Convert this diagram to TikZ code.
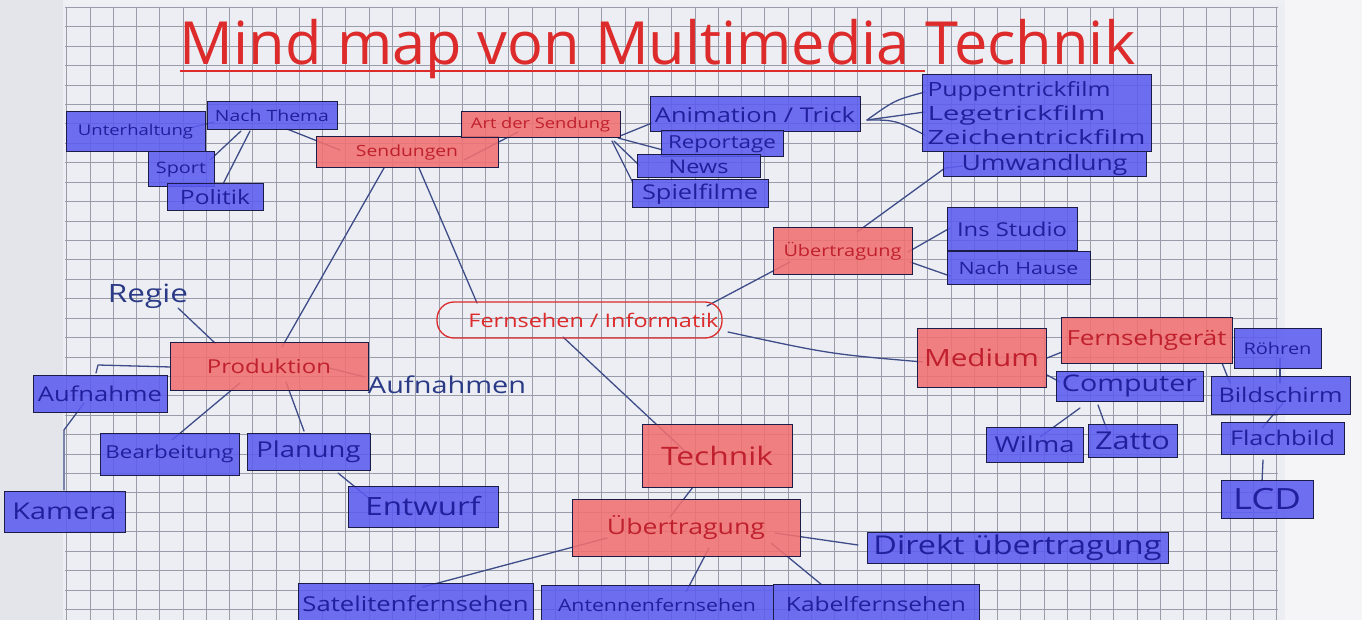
\documentclass[tikz,border=0pt]{standalone}
\usepackage{fontspec}
\setmainfont{Open Sans}
\usetikzlibrary{calc}
\pgfdeclarelayer{bg}
\pgfdeclarelayer{lines}
\pgfsetlayers{bg,lines,main}
\definecolor{outside}{HTML}{EEF0F4}
\definecolor{leftside}{HTML}{E3E5EB}
\definecolor{rightside}{HTML}{F5F5F8}
\definecolor{paper}{HTML}{ECEEF4}
\definecolor{gridc}{HTML}{9A9CAA}
\definecolor{bfill}{HTML}{5C5CF0}
\definecolor{rfill}{HTML}{F07070}
\definecolor{btext}{HTML}{20209C}
\definecolor{rtext}{HTML}{C0202E}
\definecolor{edgec}{HTML}{1C1C48}
\definecolor{connc}{HTML}{3E4C88}
\definecolor{titlered}{HTML}{DD2A2A}
\definecolor{handblue}{HTML}{2B3A86}
\tikzset{
  mmbase/.style={draw=edgec, line width=1pt, fill opacity=0.88, text opacity=1, inner sep=0pt, outer sep=0pt},
  bbox/.style={mmbase, fill=bfill, text=btext},
  rbox/.style={mmbase, fill=rfill, text=rtext},
  conn/.style={draw=connc, line width=1.3pt, line cap=round, line join=round},
  handtext/.style={text=handblue, inner sep=0pt},
  gridline/.style={draw=gridc, line width=0.9pt}
}
\newcommand\sqtext[2]{\scalebox{1}[0.8]{\resizebox{#1pt}{!}{#2}}}
\newcommand\mmbox[8]{%
  \node[#1, minimum width={(#5)-(#3)}, minimum height={(#6)-(#4)}] (#2)
    at ({((#3)+(#5))/2},{((#4)+(#6))/2}) {\sqtext{#7}{#8}};}
\begin{document}
\begin{tikzpicture}[x=1pt,y=-1pt]
\useasboundingbox (0,0) rectangle (1362,620);
\begin{pgfonlayer}{bg}
  \fill[outside] (0,0) rectangle (1362,620);
  \fill[leftside] (0,0) rectangle (63,620);
  \fill[rightside] (1285,0) rectangle (1362,620);
  \fill[paper] (63,4) rectangle (1285,620);
  \foreach \i in {0,...,52} \draw[gridline] ({66.7+\i*23.27},7) -- ({66.7+\i*23.27},620);
  \foreach \j in {0,...,31} \draw[gridline] (65,{7.4+\j*19.42}) -- (1278,{7.4+\j*19.42});
\end{pgfonlayer}

% title
\node[text=titlered, anchor=base, inner sep=0pt] (title) at (657.5,65) {\resizebox{955pt}{!}{Mind map von Multimedia Technik}};
\draw[titlered, line width=1.6pt] ($(title.base west)+(0,6)$) -- ($(title.base west)+(745,6)$);

% left cluster
\mmbox{bbox}{unterh}{66}{112}{205}{152}{115}{Unterhaltung}
\mmbox{bbox}{nachthema}{207}{102}{337}{130}{114}{Nach Thema}
\mmbox{bbox}{sport}{148}{152}{214}{187}{50}{Sport}
\mmbox{bbox}{politik}{167}{184}{263}{211}{70}{Politik}
\mmbox{rbox}{sendungen}{316}{137}{498}{168}{102}{Sendungen}
\mmbox{rbox}{artder}{461}{112}{620}{138}{139}{Art der Sendung}
\mmbox{bbox}{anim}{650}{97}{860}{132}{200}{Animation / Trick}
\mmbox{bbox}{report}{661}{131}{783}{157}{108}{Reportage}
\mmbox{bbox}{news}{637}{155}{760}{178}{60}{News}
\mmbox{bbox}{spiel}{632}{180}{768}{208}{116}{Spielfilme}
\node[bbox, minimum width=229, minimum height=77, align=left, font=\fontsize{20}{24}\selectfont] (trick) at (1036.5,113.5)
  {\resizebox{183pt}{15pt}{Puppentrickfilm}\\\resizebox{178pt}{15pt}{Legetrickfilm}\\\resizebox{218pt}{15pt}{Zeichentrickfilm}};
\mmbox{bbox}{umw}{943}{152}{1146}{177}{166}{Umwandlung}
\mmbox{rbox}{uebA}{773}{228}{912}{275}{118}{Übertragung}
\mmbox{bbox}{studio}{947}{208}{1077}{251}{110}{Ins Studio}
\mmbox{bbox}{hause}{947}{252}{1090}{285}{120}{Nach Hause}

% centre
\node[draw=titlered, line width=1.3pt, rounded corners=17pt, minimum width=285, minimum height=36, inner sep=0pt, text=titlered] (fi) at (579.5,320)
  {\hspace*{28pt}\sqtext{250}{Fernsehen / Informatik}};

% production
\node[handtext] (regie) at (148,296) {\sqtext{80}{Regie}};
\node[handtext] (aufnahmen) at (447,385) {\sqtext{158}{Aufnahmen}};
\mmbox{rbox}{prod}{170}{342}{368}{390}{124}{Produktion}
\mmbox{bbox}{aufnahme}{33}{375}{167}{412}{124}{Aufnahme}
\mmbox{bbox}{bearb}{100}{433}{239}{475}{128}{Bearbeitung}
\mmbox{bbox}{planung}{247}{433}{370}{470}{104}{Planung}
\mmbox{bbox}{kamera}{4}{491}{125}{532}{104}{Kamera}
\mmbox{bbox}{entwurf}{348}{486}{498}{527}{115}{Entwurf}

% technik
\mmbox{rbox}{technik}{642}{424}{792}{487}{112}{Technik}
\mmbox{rbox}{uebB}{572}{499}{800}{556}{158}{Übertragung}
\mmbox{bbox}{direkt}{867}{532}{1168}{563}{288}{Direkt übertragung}
\mmbox{bbox}{satel}{298}{583}{533}{625}{226}{Satelitenfernsehen}
\mmbox{bbox}{antenne}{541}{585}{773}{625}{198}{Antennenfernsehen}
\mmbox{bbox}{kabel}{773}{584}{979}{625}{180}{Kabelfernsehen}

% medium
\mmbox{rbox}{medium}{917}{328}{1046}{387}{115}{Medium}
\mmbox{rbox}{fgeraet}{1061}{317}{1232}{363}{160}{Fernsehgerät}
\mmbox{bbox}{roehren}{1234}{328}{1321}{368}{68}{Röhren}
\mmbox{bbox}{computer}{1056}{371}{1203}{401}{135}{Computer}
\mmbox{bbox}{bildschirm}{1211}{376}{1350}{414}{124}{Bildschirm}
\mmbox{bbox}{wilma}{986}{427}{1083}{462}{80}{Wilma}
\mmbox{bbox}{zatto}{1088}{424}{1177}{457}{75}{Zatto}
\mmbox{bbox}{flachbild}{1221}{422}{1344}{454}{105}{Flachbild}
\mmbox{bbox}{lcd}{1221}{480}{1313}{518}{68}{LCD}

\begin{pgfonlayer}{lines}
\draw[conn] ($(unterh)+(54.5,-4)$) -- ($(nachthema)+(-58,6)$);
\draw[conn] ($(nachthema)+(-31,15)$) -- ($(sport)+(29,-9.5)$);
\draw[conn] ($(nachthema)+(-22,15)$) -- ($(politik)+(8,-13.5)$);
\draw[conn] ($(nachthema)+(15,13)$) -- ($(sendungen)+(-67,-2.5)$);
\draw[conn] ($(sendungen)+(57,7.5)$) -- ($(artder)+(-22.5,7)$);
\draw[conn] ($(artder)+(79.5,11)$) -- ($(anim)+(-103,8.5)$);
\draw[conn] ($(artder)+(77.5,13)$) -- ($(report)+(-59,6)$);
\draw[conn] ($(artder)+(73.5,16)$) -- ($(news)+(-58.5,-0.5)$);
\draw[conn] ($(artder)+(71.5,16)$) -- ($(spiel)+(-67,-11)$);
\draw[conn] ($(anim)+(112,5.5)$) .. controls ($(anim)+(140,-14.5)$) .. ($(trick)+(-111.5,-21.5)$);
\draw[conn] ($(anim)+(112,5.5)$) -- ($(trick)+(-111.5,-1.5)$);
\draw[conn] ($(anim)+(112,5.5)$) .. controls ($(anim)+(140,5.5)$) .. ($(trick)+(-111.5,21.5)$);
\draw[conn] ($(uebA)+(14.5,-19.5)$) -- ($(umw)+(-99.5,3.5)$) -- ($(umw)+(-82,1.5)$);
\draw[conn] ($(uebA)+(65.5,0.5)$) -- ($(studio)+(-62,-1.5)$);
\draw[conn] ($(uebA)+(67.5,10.5)$) -- ($(hause)+(-68.5,7.5)$);
\draw[conn] ($(fi)+(127.5,-14)$) -- ($(uebA)+(-52.5,10.5)$);
\draw[conn] ($(fi)+(-102.5,-17)$) -- ($(sendungen)+(12,15.5)$);
\draw[conn] ($(sendungen)+(-23,15.5)$) -- ($(prod)+(13,-19)$);
\draw[conn] ($(regie)+(30,12)$) -- ($(prod)+(-53,-22)$);
\draw[conn] ($(prod)+(-98,1)$) -- ($(aufnahme)+(-2,-28.5)$) -- ($(aufnahme)+(-4,-20.5)$);
\draw[conn] ($(prod)+(60,2)$) -- ($(aufnahmen)+(-82,-8)$);
\draw[conn] ($(prod)+(-29,17)$) -- ($(bearb)+(2.5,-14)$);
\draw[conn] ($(prod)+(17,16)$) -- ($(planung)+(-4.5,-20.5)$);
\draw[conn] ($(aufnahme)+(-16,9.5)$) -- ($(kamera)+(-0.5,-81.5)$) -- ($(kamera)+(-0.5,-21.5)$);
\draw[conn] ($(planung)+(29.5,21.5)$) -- ($(entwurf)+(-52,-6.5)$);
\draw[conn] ($(fi)+(-16.5,17)$) -- ($(technik)+(-30,-2.5)$);
\draw[conn] ($(technik)+(-24,31.5)$) -- ($(uebB)+(-16,-10.5)$);
\draw[conn] ($(uebB)+(-79,10.5)$) -- ($(satel)+(7.5,-17)$);
\draw[conn] ($(uebB)+(23,20.5)$) -- ($(antenne)+(29,-13)$);
\draw[conn] ($(uebB)+(85,15.5)$) -- ($(kabel)+(-54,-19.5)$);
\draw[conn] ($(uebB)+(89,5.5)$) -- ($(direkt)+(-159.5,-2.5)$);
\draw[conn] ($(fi)+(148.5,12)$) .. controls ($(fi)+(250,34)$) .. ($(medium)+(-58.5,4.5)$);
\draw[conn] ($(medium)+(65.5,0.5)$) -- ($(fgeraet)+(-84.5,12)$);
\draw[conn] ($(medium)+(65.5,17.5)$) -- ($(computer)+(-69.5,-4)$);
\draw[conn] ($(computer)+(-49.5,22)$) -- ($(wilma)+(5.5,-7.5)$);
\draw[conn] ($(computer)+(-31.5,19)$) -- ($(zatto)+(-25.5,-10.5)$);
\draw[conn] ($(fgeraet)+(75.5,23)$) -- ($(bildschirm)+(-50.5,-12)$);
\draw[conn] ($(roehren)+(2.5,10)$) -- ($(bildschirm)+(-0.5,-12)$);
\draw[conn] ($(bildschirm)+(2.5,8)$) -- ($(flachbild)+(-20.5,-10)$);
\draw[conn] ($(flachbild)+(-19.5,22)$) -- ($(lcd)+(-5,-17)$);
\end{pgfonlayer}
\end{tikzpicture}
\end{document}
